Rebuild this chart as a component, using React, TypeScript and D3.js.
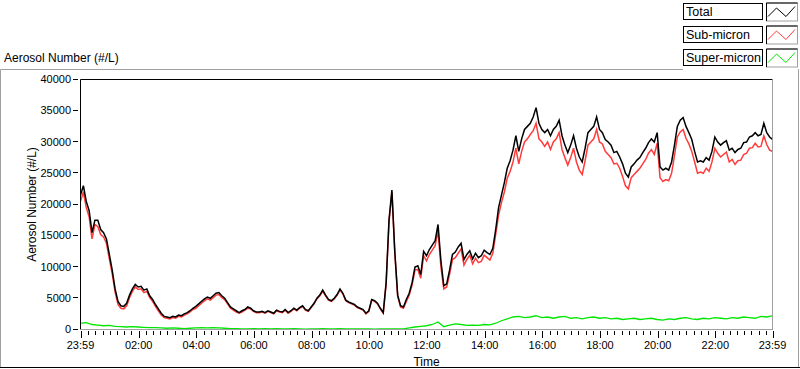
import React from 'react';
import * as d3 from 'd3';

// time in minutes after 00:00 (start is 23:59 of the previous day)
const timeStartMin = -1;
const timeEndMin = 1439;
const totalStepMin = 6;
const superStepMin = 12;

const yTickValues = [0, 5000, 10000, 15000, 20000, 25000, 30000, 35000, 40000];
const xTickMinutes = [-1, 120, 240, 360, 480, 600, 720, 840, 960, 1080, 1200, 1320, 1439];
const xTickLabels = ['23:59', '02:00', '04:00', '06:00', '08:00', '10:00', '12:00', '14:00', '16:00', '18:00', '20:00', '22:00', '23:59'];
const legendNames = ['Total', 'Sub-micron', 'Super-micron'];
const seriesColors = ['#000000', '#ff3b3b', '#00e600'];

const total = [
  21500, 23000, 20500, 19000, 15500, 17500, 17500, 16000, 15500, 14500,
  12000, 9500, 6500, 4500, 3800, 3700, 4200, 5500, 6500, 7200,
  6800, 6900, 6300, 6500, 5400, 4800, 4000, 3300, 2600, 2100,
  2000, 1900, 2100, 2000, 2300, 2200, 2500, 2700, 3000, 3400,
  3700, 4100, 4500, 4900, 5200, 5000, 5400, 5800, 5900, 5400,
  5000, 4300, 3600, 3300, 3000, 2700, 3000, 3200, 3600, 3400,
  3000, 2800, 2800, 2900, 2700, 3000, 2800, 2600, 3100, 2900,
  2800, 3200, 2700, 3000, 3400, 3100, 3500, 3800, 3200, 3000,
  3600, 4200, 5000, 5500, 6300, 5500, 4800, 4600, 5000, 5600,
  6500, 5800, 4700, 4400, 4200, 4000, 3600, 3400, 3200, 2600,
  3000, 4800, 4600, 4200, 3400, 2700, 7500, 17500, 22300, 12500,
  5500, 3800, 3600, 4800, 5800, 7500, 10000, 10200, 8800, 12500,
  11800, 12800, 13500, 14200, 16800, 11000, 7000, 7300, 9500, 12000,
  12400, 13200, 13800, 11200, 12000, 12600, 11300, 12200, 11500, 11800,
  12700, 12300, 12000, 13000, 16000, 19500, 21500, 23500, 25800, 27000,
  28700, 31000, 28500, 30500, 32000, 32500, 33000, 34000, 35500, 33000,
  32000, 31500, 32000, 31000, 32000, 32500, 33500, 31000, 29500, 28300,
  29500, 31000, 29000, 27600, 26800, 29000, 31500, 32000, 32500, 34000,
  32000, 31500, 30400, 30000, 29500, 28300, 28500, 27600, 26500, 25000,
  24400, 26000, 26500, 27100, 27500, 28300, 29000, 29900, 30500, 30000,
  31500, 26000, 25500, 25800, 25500, 26800, 29500, 32500, 33500, 33900,
  32500, 31500, 30400, 28500, 26800, 27000, 26800, 27500, 27100, 28500,
  30800, 30000, 29500, 29900, 30200, 28700, 29000, 28300, 28800, 29000,
  29900, 30000, 30800, 31000, 31500, 31000, 31200, 33000, 31500, 30800,
  30400,
];

const subMicron = [
  20500, 22000, 19500, 18000, 14500, 16800, 16500, 15200, 14800, 13800,
  11300, 8900, 6000, 4000, 3400, 3300, 3800, 5100, 6100, 6800,
  6400, 6500, 5900, 6100, 5100, 4500, 3700, 3000, 2300, 1900,
  1800, 1700, 1900, 1800, 2100, 2000, 2300, 2500, 2800, 3200,
  3400, 3800, 4200, 4600, 4900, 4700, 5100, 5500, 5600, 5100,
  4800, 4100, 3400, 3100, 2800, 2600, 2800, 3100, 3400, 3300,
  2900, 2700, 2700, 2800, 2600, 2900, 2700, 2500, 3000, 2800,
  2700, 3100, 2600, 2900, 3300, 3000, 3400, 3700, 3100, 2900,
  3500, 4100, 4900, 5400, 6100, 5400, 4700, 4500, 4900, 5500,
  6300, 5700, 4600, 4300, 4100, 3900, 3500, 3300, 3100, 2500,
  2900, 4700, 4500, 4100, 3300, 2600, 7300, 17300, 22000, 12300,
  5300, 3600, 3400, 4500, 5500, 7100, 9500, 9600, 8200, 11800,
  11000, 12000, 12700, 13400, 15800, 10000, 6500, 6800, 8800, 11200,
  11500, 12200, 12900, 10300, 11200, 11900, 10500, 11400, 10700, 10900,
  11900, 11500, 11100, 12200, 15200, 18300, 20300, 22000, 24200, 25300,
  26800, 29000, 26500, 28500, 30000, 30500, 31200, 31800, 33000, 30500,
  30000, 29300, 30000, 28800, 30000, 30500, 31500, 28800, 27500, 26300,
  27500, 29000, 26800, 25500, 24800, 27000, 29500, 30000, 30500, 32000,
  30000, 29700, 28500, 28000, 27500, 26500, 26600, 25800, 24500, 23000,
  22500, 24300, 24800, 25300, 25800, 26500, 27200, 28200, 28800, 28000,
  29800, 24300, 23700, 24000, 23800, 25000, 27800, 30800, 31600, 32000,
  30600, 29700, 28500, 26800, 25000, 25200, 25000, 25800, 25300, 26800,
  29000, 28200, 27600, 28000, 28400, 26800, 27200, 26400, 27000, 27100,
  28000, 28200, 29000, 29100, 29800, 29200, 29300, 31000, 29600, 28700,
  28500,
];

const superMicron = [
  1000, 1100, 800, 700, 600, 650, 500, 450, 400, 450,
  400, 350, 300, 300, 250, 200, 250, 200, 150, 200,
  250, 300, 250, 300, 250, 200, 150, 150, 100, 100,
  150, 100, 150, 100, 150, 100, 100, 150, 100, 50,
  100, 100, 150, 100, 100, 150, 100, 100, 100, 100,
  100, 50, 100, 100, 100, 100, 100, 250, 400, 500,
  600, 800, 1200, 450, 700, 900, 800, 650, 700, 650,
  800, 750, 1000, 1400, 1700, 2000, 2100, 1900, 2000, 2200,
  1900, 2000, 1800, 2000, 2100, 1800, 1900, 1700, 1900, 2000,
  1800, 1900, 1700, 1800, 1600, 1700, 1800, 1600, 1700, 1800,
  1600, 1500, 1700, 1600, 1800, 1900, 1700, 1600, 1800, 1700,
  1900, 1800, 1700, 1900, 1800, 2000, 1900, 1800, 2100, 2000,
  2200,
];

const FONT = '"Liberation Sans", Arial, sans-serif';

export default function App() {
  const left = 80.5, right = 772.5, top = 79.5, bottom = 329.5;
  const x = d3.scaleLinear().domain([timeStartMin, timeEndMin]).range([left, right]);
  const y = d3.scaleLinear().domain([0, 40000]).range([bottom, top]);

  const mkLine = (step: number) =>
    d3.line<number>()
      .x((_, i) => x(timeStartMin + i * step))
      .y((d) => y(d));

  const totalPath = mkLine(totalStepMin)(total) || '';
  const subPath = mkLine(totalStepMin)(subMicron) || '';
  const superPath = mkLine(superStepMin)(superMicron) || '';

  const minorTicks = d3.range(0, 1440, 15).filter((m) => m % 120 !== 0);

  const legendRows = legendNames.map((name, i) => ({ name, color: seriesColors[i], top: 3.5 + i * 23 }));

  return (
    <div style={{ position: 'absolute', left: 0, top: 0 }}>
      <svg width={800} height={369} style={{ display: 'block', background: '#fff' }}>
        <defs>
          <clipPath id="plotClip">
            <rect x={left + 0.5} y={top + 0.5} width={right - left - 1} height={bottom - top - 1} />
          </clipPath>
        </defs>
        {/* panel frame */}
        <line x1={0.5} y1={69.5} x2={683} y2={69.5} stroke="#a0a0a0" />
        <line x1={0.5} y1={69.5} x2={0.5} y2={368} stroke="#a0a0a0" />
        <line x1={798.5} y1={69} x2={798.5} y2={368} stroke="#a0a0a0" />
        <line x1={0} y1={367.5} x2={800} y2={367.5} stroke="#000" />

        <text x={4} y={62} fontFamily={FONT} fontSize={12} fill="#000">Aerosol Number (#/L)</text>

        {/* plot frame */}
        <line x1={left} y1={top} x2={right} y2={top} stroke="#000" />
        <line x1={left} y1={top} x2={left} y2={bottom} stroke="#000" />
        <line x1={right} y1={top} x2={right} y2={bottom + 0.5} stroke="#a0a0a0" />
        <line x1={left} y1={bottom} x2={right} y2={bottom} stroke="#a0a0a0" />

        {/* series */}
        <g clipPath="url(#plotClip)" fill="none" strokeLinejoin="miter">
          <path d={superPath} stroke={seriesColors[2]} strokeWidth={1.3} />
          <path d={subPath} stroke={seriesColors[1]} strokeWidth={1.5} />
          <path d={totalPath} stroke={seriesColors[0]} strokeWidth={1.5} />
        </g>

        {/* y axis */}
        {yTickValues.map((v) => (
          <g key={v}>
            <line x1={73} x2={78} y1={Math.round(y(v)) + 0.5 - 1} y2={Math.round(y(v)) + 0.5 - 1} stroke="#000" />
            <text x={71} y={y(v) + 3.5} textAnchor="end" fontFamily={FONT} fontSize={11} fill="#000">{d3.format('d')(v)}</text>
          </g>
        ))}
        <text transform={`translate(36,${(top + bottom) / 2}) rotate(-90)`} textAnchor="middle" fontFamily={FONT} fontSize={12} fill="#000">Aerosol Number (#/L)</text>

        {/* x axis */}
        {minorTicks.map((m) => (
          <line key={'m' + m} x1={Math.round(x(m)) + 0.5} x2={Math.round(x(m)) + 0.5} y1={331} y2={335} stroke="#000" />
        ))}
        {xTickMinutes.map((m, i) => (
          <g key={'M' + i}>
            <line x1={Math.round(x(m)) + 0.5} x2={Math.round(x(m)) + 0.5} y1={331} y2={338} stroke="#000" />
            <text x={x(m)} y={348.5} textAnchor="middle" fontFamily={FONT} fontSize={11} fill="#000">{xTickLabels[i]}</text>
          </g>
        ))}
        <text x={(left + right) / 2} y={365.5} textAnchor="middle" fontFamily={FONT} fontSize={12} fill="#000">Time</text>

        {/* legend */}
        {legendRows.map((r) => (
          <g key={r.name}>
            <rect x={683.5} y={r.top} width={79} height={16} fill="#fff" stroke="#000" />
            <text x={686} y={r.top + 12.5} fontFamily={FONT} fontSize={12.5} fill="#000">{r.name}</text>
            <rect x={766.5} y={r.top - 0.5} width={31} height={18} fill="#fff" stroke="#a0a0a0" />
            <path d={`M766.5,${r.top + 17.5}V${r.top - 0.5}H797.5`} fill="none" stroke="#000" />
            <polyline
              points={`768,${r.top + 13} 776.5,${r.top + 4.5} 786,${r.top + 13} 795,${r.top + 3}`}
              fill="none"
              stroke={r.color}
              strokeWidth={1}
            />
          </g>
        ))}
      </svg>
    </div>
  );
}
